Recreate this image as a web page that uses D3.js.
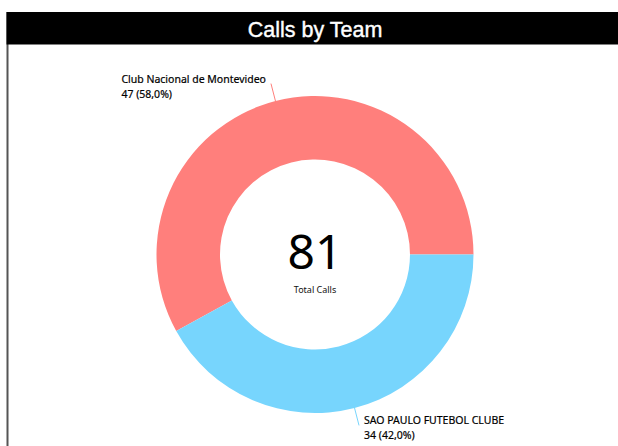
<!DOCTYPE html>
<html>
<head>
<meta charset="utf-8">
<script src="https://cdn.jsdelivr.net/npm/d3@7"></script>
<style>
  body { margin: 0; background: #fff; }
</style>
</head>
<body>
<div id="chart"></div>
<script>
// Data
var teams = ["Club Nacional de Montevideo", "SAO PAULO FUTEBOL CLUBE"];
var calls = [47, 34];
var colors = ["#ff7f7c", "#77d5fd"];
var title = "Calls by Team";
var centerLabel = "Total Calls";

var W = 618, H = 446;
var svg = d3.select("#chart").append("svg")
  .attr("width", W).attr("height", H);

// panel border + title bar
svg.append("rect")
  .attr("x", 7.5).attr("y", 13).attr("width", W).attr("height", H)
  .attr("fill", "#fff").attr("stroke", "#555").attr("stroke-width", 2);
svg.append("rect")
  .attr("x", 6.5).attr("y", 12).attr("width", W).attr("height", 32.5)
  .attr("fill", "#000");
svg.append("text")
  .attr("x", 315).attr("y", 37)
  .attr("text-anchor", "middle")
  .attr("fill", "#fff")
  .style("font-family", "Liberation Sans, Arial, sans-serif")
  .style("font-size", "21.5px")
  .style("stroke", "#fff").style("stroke-width", 0.4)
  .text(title);

var cx = 315, cy = 254.5, R = 158.5, r = 95;
var total = d3.sum(calls);

var data = teams.map(function (t, i) {
  return { team: t, value: calls[i], color: colors[i] };
});

// first slice ends at 3 o'clock
var start = Math.PI / 2 - (calls[0] / total) * 2 * Math.PI;
var pie = d3.pie().sort(null).value(function (d) { return d.value; })
  .startAngle(start).endAngle(start + 2 * Math.PI);
var arc = d3.arc().innerRadius(r).outerRadius(R);

var g = svg.append("g").attr("transform", "translate(" + cx + "," + cy + ")");
var arcs = pie(data);

g.selectAll("path.slice")
  .data(arcs)
  .enter().append("path")
  .attr("class", "slice")
  .attr("d", arc)
  .attr("fill", function (d) { return d.data.color; });

// labels with connector lines
var lblFont = "'Noto Sans', 'Open Sans', sans-serif";
arcs.forEach(function (d) {
  var mid = (d.startAngle + d.endAngle) / 2;
  var sx = Math.sin(mid), sy = -Math.cos(mid);
  var p0 = [sx * (R - 1), sy * (R - 1)];
  var p1 = [sx * (R + 18), sy * (R + 18)];
  g.append("line")
    .attr("x1", p0[0]).attr("y1", p0[1])
    .attr("x2", p1[0]).attr("y2", p1[1])
    .attr("stroke", d.data.color).attr("stroke-width", 1);

  var pct = (d.data.value / total * 100).toFixed(1).replace(".", ",");
  var t = g.append("text")
    .style("font-family", lblFont)
    .style("font-size", "10.5px")
    .style("stroke", "#000").style("stroke-width", 0.2)
    .attr("fill", "#000");
  t.append("tspan").attr("x", 0).attr("dy", 0).text(d.data.team);
  t.append("tspan").attr("x", 0).attr("dy", 15).text(d.data.value + " (" + pct + "%)");
  var bw = t.node().getBBox().width;
  var tx = sx < 0 ? p1[0] - 5 - bw : p1[0] + 5;
  t.selectAll("tspan").attr("x", tx);
  t.select("tspan").attr("y", p1[1] - 1);
});

// center total
g.append("text")
  .attr("y", 14)
  .attr("text-anchor", "middle")
  .style("font-family", lblFont)
  .style("font-size", "48px")
  .attr("fill", "#000")
  .text(total);
g.append("text")
  .attr("y", 38.5)
  .attr("text-anchor", "middle")
  .style("font-family", lblFont)
  .style("font-size", "9px")
  .attr("fill", "#111")
  .text(centerLabel);
</script>
</body>
</html>
